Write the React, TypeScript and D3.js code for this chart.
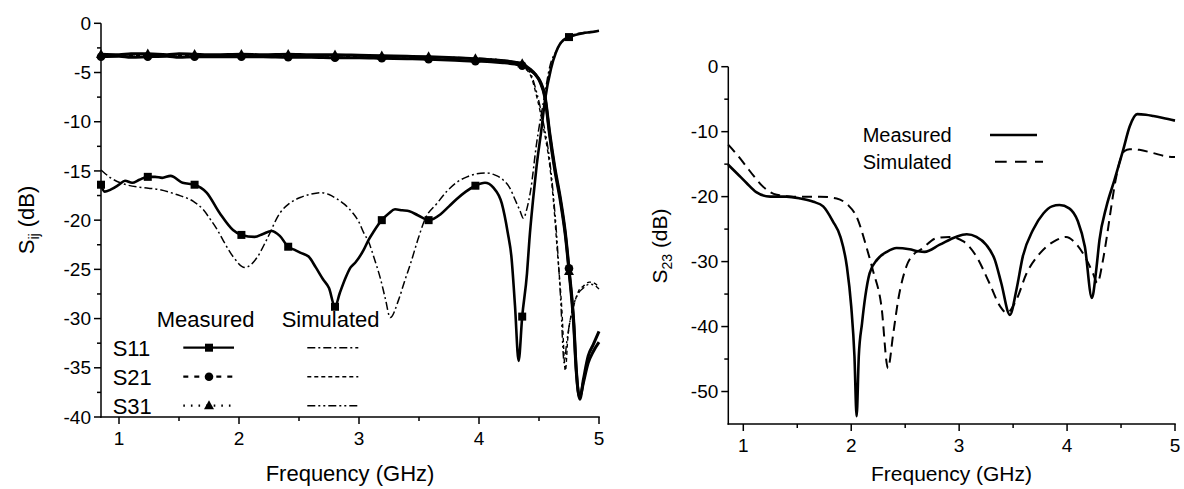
import React from "react";
import * as d3 from "d3";

type Pt = [number, number];

// ---------- tick data ----------
const xMajor = [1, 2, 3, 4, 5];
const xMinor = [1.5, 2.5, 3.5, 4.5];
const leftYMajor = [0, -5, -10, -15, -20, -25, -30, -35, -40];
const leftYMinor = [-2.5, -7.5, -12.5, -17.5, -22.5, -27.5, -32.5, -37.5];
const rightYMajor = [0, -10, -20, -30, -40, -50];
const rightYMinor = [-5, -15, -25, -35, -45];
const markerFreqs = [0.85, 1.24, 1.63, 2.02, 2.41, 2.8, 3.19, 3.58, 3.97, 4.36, 4.75];

// ---------- left chart series (GHz, dB) ----------
const measS11: Pt[] = [
  [0.85, -16.4], [0.88, -17.1], [0.93, -16.9], [1.0, -16.4], [1.05, -16.0], [1.11, -16.2], [1.17, -15.9],
  [1.24, -15.6], [1.3, -15.6], [1.36, -15.7], [1.43, -15.5], [1.53, -16.2], [1.63, -16.4], [1.73, -17.2],
  [1.84, -19.3], [1.95, -21.0], [2.02, -21.5], [2.13, -21.7], [2.2, -21.4], [2.27, -21.1], [2.34, -21.6],
  [2.41, -22.7], [2.46, -23.0], [2.51, -23.3], [2.58, -23.7], [2.64, -24.8], [2.7, -26.0], [2.75, -26.9],
  [2.8, -28.8], [2.84, -27.4], [2.89, -25.8], [2.93, -24.8], [2.97, -24.3], [3.04, -23.0], [3.08, -22.0],
  [3.12, -21.2], [3.19, -20.0], [3.25, -19.3], [3.3, -18.9], [3.36, -19.0], [3.42, -19.1], [3.49, -19.5],
  [3.58, -20.0], [3.68, -19.4], [3.75, -18.6], [3.81, -17.9], [3.89, -17.1], [3.97, -16.5], [4.05, -16.2],
  [4.12, -16.7], [4.19, -18.3], [4.24, -21.3], [4.27, -23.7], [4.3, -28.7], [4.33, -34.3], [4.36, -29.8],
  [4.4, -25.4], [4.42, -22.0], [4.45, -18.0], [4.48, -14.5], [4.52, -10.8], [4.55, -7.8], [4.6, -4.6],
  [4.64, -3.0], [4.68, -2.0], [4.75, -1.4], [4.8, -1.2], [4.87, -1.0], [4.93, -0.9], [5.0, -0.75],
];
const measS21: Pt[] = [
  [0.85, -3.4], [1.0, -3.35], [1.1, -3.45], [1.24, -3.4], [1.4, -3.35], [1.5, -3.45], [1.63, -3.4],
  [1.8, -3.4], [2.02, -3.4], [2.2, -3.4], [2.41, -3.45], [2.6, -3.45], [2.8, -3.5], [3.0, -3.5],
  [3.19, -3.55], [3.4, -3.6], [3.58, -3.65], [3.8, -3.75], [3.97, -3.85], [4.1, -3.9], [4.2, -4.0],
  [4.3, -4.15], [4.36, -4.3], [4.42, -4.7], [4.47, -5.2], [4.51, -5.9], [4.55, -7.4], [4.59, -11.2],
  [4.63, -14.5], [4.68, -17.9], [4.72, -21.3], [4.75, -24.9], [4.79, -30.4], [4.81, -35.0], [4.84, -38.2],
  [4.87, -36.2], [4.91, -33.8], [4.95, -32.7], [5.0, -31.3],
];
const measS31: Pt[] = [
  [0.85, -3.15], [1.0, -3.2], [1.1, -3.1], [1.24, -3.1], [1.4, -3.2], [1.5, -3.1], [1.63, -3.15],
  [1.8, -3.2], [2.02, -3.15], [2.2, -3.2], [2.41, -3.15], [2.6, -3.2], [2.8, -3.2], [3.0, -3.25],
  [3.19, -3.3], [3.4, -3.35], [3.58, -3.4], [3.8, -3.5], [3.97, -3.6], [4.1, -3.7], [4.2, -3.8],
  [4.3, -3.95], [4.36, -4.1], [4.42, -4.6], [4.47, -5.2], [4.51, -6.0], [4.55, -7.6], [4.59, -11.5],
  [4.63, -14.8], [4.68, -18.2], [4.72, -21.6], [4.75, -25.2], [4.79, -30.8], [4.81, -35.3], [4.84, -38.0],
  [4.87, -36.5], [4.91, -34.5], [4.95, -33.4], [5.0, -32.4],
];
const simS11: Pt[] = [
  [0.85, -14.9], [0.93, -15.7], [1.06, -16.4], [1.2, -16.7], [1.34, -16.9], [1.48, -17.4], [1.62, -18.1],
  [1.7, -18.9], [1.76, -19.9], [1.82, -21.0], [1.87, -22.1], [1.95, -23.7], [2.05, -24.8], [2.15, -23.8],
  [2.23, -22.0], [2.34, -19.3], [2.42, -18.3], [2.51, -17.7], [2.6, -17.35], [2.68, -17.2], [2.75, -17.4],
  [2.81, -17.8], [2.88, -18.4], [2.95, -19.3], [3.0, -20.2], [3.04, -21.3], [3.08, -22.2], [3.13, -24.0],
  [3.18, -26.0], [3.22, -28.0], [3.26, -29.9], [3.33, -28.1], [3.38, -26.2], [3.43, -24.4], [3.49, -22.0],
  [3.55, -19.9], [3.65, -18.3], [3.73, -17.1], [3.81, -16.2], [3.9, -15.6], [3.98, -15.3], [4.06, -15.2],
  [4.13, -15.4], [4.2, -15.9], [4.26, -16.8], [4.3, -17.9], [4.34, -19.0], [4.37, -19.8], [4.4, -18.8],
  [4.43, -17.0], [4.48, -12.2], [4.54, -7.8], [4.59, -4.4], [4.65, -2.7], [4.72, -1.5], [4.8, -1.1],
  [4.9, -0.9], [5.0, -0.8],
];
const simS21: Pt[] = [
  [0.85, -3.25], [1.5, -3.25], [2.5, -3.3], [3.5, -3.45], [4.0, -3.6], [4.2, -3.8], [4.3, -4.0],
  [4.36, -4.4], [4.43, -5.3], [4.48, -7.4], [4.535, -10.5], [4.59, -14.5], [4.62, -18.0], [4.65, -22.7],
  [4.69, -29.0], [4.72, -35.3], [4.74, -32.0], [4.79, -28.7], [4.83, -27.2], [4.87, -26.7], [4.92, -26.3],
  [4.96, -26.4], [5.0, -26.8],
];
const simS31: Pt[] = [
  [0.85, -3.2], [1.5, -3.2], [2.5, -3.25], [3.5, -3.4], [4.0, -3.55], [4.2, -3.75], [4.3, -3.95],
  [4.36, -4.3], [4.43, -5.1], [4.48, -7.0], [4.535, -10.0], [4.59, -14.0], [4.62, -17.5], [4.65, -22.0],
  [4.68, -28.0], [4.71, -34.5], [4.73, -32.5], [4.78, -29.0], [4.83, -27.4], [4.87, -26.9], [4.92, -26.5],
  [4.96, -26.6], [5.0, -27.0],
];

// ---------- right chart series ----------
const measS23: Pt[] = [
  [0.86, -15.1], [0.94, -16.4], [1.03, -17.9], [1.12, -19.3], [1.25, -20.0], [1.4, -20.0], [1.53, -20.3],
  [1.65, -20.8], [1.74, -21.5], [1.83, -23.8], [1.9, -26.2], [1.96, -30.8], [2.0, -36.9], [2.03, -44.6],
  [2.05, -53.8], [2.07, -44.6], [2.1, -39.5], [2.13, -35.4], [2.17, -31.8], [2.24, -29.7], [2.33, -28.5],
  [2.42, -27.9], [2.54, -28.1], [2.62, -28.4], [2.68, -28.5], [2.82, -27.4], [2.97, -26.2], [3.07, -25.8],
  [3.16, -26.2], [3.25, -27.4], [3.33, -29.7], [3.39, -33.3], [3.47, -38.2], [3.53, -34.4], [3.59, -29.2],
  [3.685, -25.1], [3.78, -22.6], [3.86, -21.5], [3.93, -21.3], [4.02, -21.8], [4.1, -23.8], [4.165, -27.7],
  [4.23, -35.6], [4.27, -31.3], [4.3, -26.7], [4.365, -21.5], [4.44, -17.4], [4.52, -12.8], [4.58, -9.2],
  [4.65, -7.3], [4.73, -7.4], [4.8, -7.6], [4.89, -7.9], [5.0, -8.3],
];
const simS23: Pt[] = [
  [0.86, -12.0], [0.95, -13.7], [1.03, -15.4], [1.1, -16.9], [1.185, -18.5], [1.31, -19.7], [1.46, -20.0],
  [1.71, -20.0], [1.865, -20.3], [1.97, -21.3], [2.05, -23.1], [2.14, -27.7], [2.2, -31.3], [2.28, -36.9],
  [2.34, -46.4], [2.39, -41.0], [2.435, -35.9], [2.51, -30.8], [2.59, -28.7], [2.64, -28.2], [2.79, -26.4],
  [2.91, -26.2], [3.04, -26.9], [3.16, -29.2], [3.28, -33.3], [3.38, -36.9], [3.44, -37.9], [3.53, -35.9],
  [3.625, -31.8], [3.75, -28.7], [3.9, -26.7], [3.99, -26.2], [4.09, -27.4], [4.18, -29.7], [4.24, -31.8],
  [4.28, -33.3], [4.33, -30.0], [4.37, -26.0], [4.41, -21.5], [4.45, -17.4], [4.49, -14.5], [4.53, -13.0],
  [4.58, -12.7], [4.67, -12.8], [4.8, -13.3], [4.92, -13.8], [5.0, -13.9],
];

const FONT = "'Liberation Sans', Arial, Helvetica, sans-serif";

type Scale = d3.ScaleLinear<number, number>;

function Axes({ x, y, xMaj, xMin, yMaj, yMin, tickFont }: {
  x: Scale; y: Scale; xMaj: number[]; xMin: number[]; yMaj: number[]; yMin: number[]; tickFont: number;
}) {
  const [x0, x1] = x.range();
  const [yb, yt] = y.range();
  return (
    <g stroke="#000" strokeWidth={1.5} fill="none">
      <line x1={x0} x2={x0} y1={yt} y2={yb + 0.75} />
      <line x1={x0 - 0.75} x2={x1 + 0.75} y1={yb} y2={yb} />
      {yMaj.map((v) => (
        <line key={"ym" + v} x1={x0 - 7} x2={x0} y1={y(v)} y2={y(v)} />
      ))}
      {yMin.map((v) => (
        <line key={"yn" + v} x1={x0 - 4} x2={x0} y1={y(v)} y2={y(v)} />
      ))}
      {xMaj.map((v) => (
        <line key={"xm" + v} x1={x(v)} x2={x(v)} y1={yb} y2={yb + 7} />
      ))}
      {xMin.map((v) => (
        <line key={"xn" + v} x1={x(v)} x2={x(v)} y1={yb} y2={yb + 4} />
      ))}
      <g stroke="none" fill="#000" fontFamily={FONT} fontSize={tickFont}>
        {yMaj.map((v) => (
          <text key={"yl" + v} x={x0 - 10} y={y(v)} dy="0.35em" textAnchor="end">{String(v)}</text>
        ))}
        {xMaj.map((v) => (
          <text key={"xl" + v} x={x(v)} y={yb + 28} textAnchor="middle">{String(v)}</text>
        ))}
      </g>
    </g>
  );
}

function Square({ cx, cy, s = 8 }: { cx: number; cy: number; s?: number }) {
  return <rect x={cx - s / 2} y={cy - s / 2} width={s} height={s} fill="#000" />;
}
function Circle({ cx, cy }: { cx: number; cy: number }) {
  return <circle cx={cx} cy={cy} r={4.3} fill="#000" />;
}
function Tri({ cx, cy }: { cx: number; cy: number }) {
  const h = 9;
  return <path d={`M${cx},${cy - h * 0.6}L${cx + 5},${cy + h * 0.4}L${cx - 5},${cy + h * 0.4}Z`} fill="#000" />;
}

const isMarker = (f: number) => markerFreqs.some((m) => Math.abs(m - f) < 1e-6);

export default function App() {
  // left panel scales
  const xL = d3.scaleLinear().domain([0.85, 5]).range([101, 599]);
  const yL = d3.scaleLinear().domain([-40, 0]).range([417, 23.3]);
  // right panel scales
  const xR = d3.scaleLinear().domain([0.861, 5]).range([728.3, 1175]);
  const yR = d3.scaleLinear().domain([-55, 0]).range([424, 66.7]);

  const lineL = d3.line<Pt>().x((d) => xL(d[0])).y((d) => yL(d[1])).curve(d3.curveMonotoneX);
  const lineR = d3.line<Pt>().x((d) => xR(d[0])).y((d) => yR(d[1])).curve(d3.curveMonotoneX);

  const simDashS11 = "8,3,2,3";
  const simDashS21 = "4,3";
  const simDashS31 = "8,3,2,3,2,3";

  return (
    <svg width={1184} height={489} style={{ position: "absolute", left: 0, top: 0, background: "#fff" }}>
      <rect x={0} y={0} width={1184} height={489} fill="#fff" />
      {/* ---------------- LEFT PANEL ---------------- */}
      <g fill="none" stroke="#000" strokeLinejoin="round">
        <path d={lineL(simS21) || ""} strokeWidth={1.4} strokeDasharray={simDashS21} />
        <path d={lineL(simS31) || ""} strokeWidth={1.4} strokeDasharray={simDashS31} />
        <path d={lineL(simS11) || ""} strokeWidth={1.5} strokeDasharray={simDashS11} />
        <path d={lineL(measS21) || ""} strokeWidth={3} />
        <path d={lineL(measS31) || ""} strokeWidth={3} />
        <path d={lineL(measS11) || ""} strokeWidth={2.6} />
      </g>
      <g>
        {measS11.filter((d) => isMarker(d[0])).map((d) => (
          <Square key={"sq" + d[0]} cx={xL(d[0])} cy={yL(d[1])} />
        ))}
        {measS21.filter((d) => isMarker(d[0])).map((d) => (
          <Circle key={"ci" + d[0]} cx={xL(d[0])} cy={yL(d[1])} />
        ))}
        {measS31.filter((d) => isMarker(d[0])).map((d) => (
          <Tri key={"tr" + d[0]} cx={xL(d[0])} cy={yL(d[1])} />
        ))}
      </g>
      <Axes x={xL} y={yL} xMaj={xMajor} xMin={xMinor} yMaj={leftYMajor} yMin={leftYMinor} tickFont={19} />

      {/* left legend */}
      <g fontFamily={FONT} fontSize={22} fill="#000">
        <text x={156.7} y={327}>Measured</text>
        <text x={281.7} y={327}>Simulated</text>
        <text x={112.7} y={356}>S11</text>
        <text x={112.7} y={385}>S21</text>
        <text x={112.7} y={414}>S31</text>
      </g>
      <g stroke="#000" fill="none">
        <line x1={183.3} x2={234} y1={347.7} y2={347.7} strokeWidth={2.2} />
        <line x1={183.3} x2={234} y1={376.7} y2={376.7} strokeWidth={2.2} strokeDasharray="5,6" />
        <line x1={183.3} x2={234} y1={405.7} y2={405.7} strokeWidth={2.2} strokeDasharray="1.6,6" />
        <line x1={307.3} x2={358.3} y1={347.7} y2={347.7} strokeWidth={1.6} strokeDasharray={simDashS11} />
        <line x1={307.3} x2={358.3} y1={376.7} y2={376.7} strokeWidth={1.6} strokeDasharray={simDashS21} />
        <line x1={307.3} x2={358.3} y1={405.7} y2={405.7} strokeWidth={1.6} strokeDasharray={simDashS31} />
      </g>
      <Square cx={209} cy={347.7} />
      <Circle cx={209} cy={376.7} />
      <Tri cx={209} cy={405.7} />

      {/* left axis titles */}
      <g fontFamily={FONT} fill="#000">
        <text x={350} y={481} fontSize={22} textAnchor="middle">Frequency (GHz)</text>
        <text transform="translate(34,220) rotate(-90)" fontSize={22} textAnchor="middle">
          S<tspan fontSize={14} dy={5}>ij</tspan><tspan dy={-5}> (dB)</tspan>
        </text>
      </g>

      {/* ---------------- RIGHT PANEL ---------------- */}
      <g fill="none" stroke="#000" strokeLinejoin="round">
        <path d={lineR(simS23) || ""} strokeWidth={2} strokeDasharray="10,6" />
        <path d={lineR(measS23) || ""} strokeWidth={2.6} />
      </g>
      <Axes x={xR} y={yR} xMaj={xMajor} xMin={xMinor} yMaj={rightYMajor} yMin={rightYMinor} tickFont={19} />

      <g fontFamily={FONT} fontSize={20} fill="#000">
        <text x={862.7} y={141.7}>Measured</text>
        <text x={862.7} y={169}>Simulated</text>
      </g>
      <g stroke="#000" fill="none">
        <line x1={990} x2={1037} y1={135} y2={135} strokeWidth={2.6} />
        <line x1={995} x2={1043} y1={161.7} y2={161.7} strokeWidth={2} strokeDasharray="11.7,8.3" />
      </g>

      <g fontFamily={FONT} fill="#000">
        <text x={951.5} y={481} fontSize={21} textAnchor="middle">Frequency (GHz)</text>
        <text transform="translate(667,246) rotate(-90)" fontSize={21} textAnchor="middle">
          S<tspan fontSize={14} dy={5}>23</tspan><tspan dy={-5}> (dB)</tspan>
        </text>
      </g>
    </svg>
  );
}
